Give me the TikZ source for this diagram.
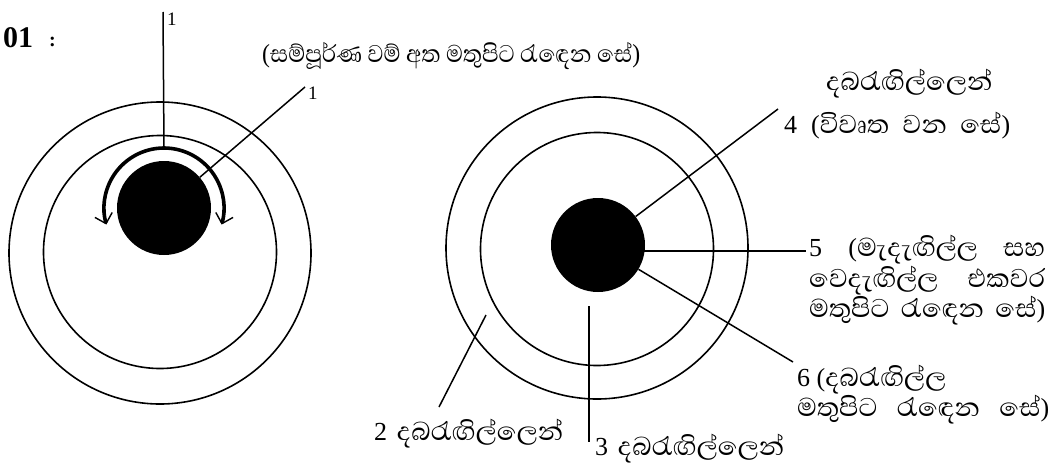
\documentclass[tikz,border=0pt]{standalone}
\usepackage{fontspec}
\usepackage{graphicx}
\setmainfont{Abhaya Libre}[Script=Sinhala]
\newfontfamily\numfont{Liberation Serif}
\usetikzlibrary{arrows.meta}
% one line set to a given width: squeeze if too wide, else spread the spaces
\newsavebox{\linebox}
\newcommand{\fitline}[2]{\sbox{\linebox}{#2}%
  \ifdim\wd\linebox>#1\relax\resizebox{#1}{\height}{#2}\else\makebox[#1][s]{#2}\fi}
% digits and brackets in the Latin face
\newcommand{\nm}[1]{{\numfont\fontsize{26}{29}\selectfont #1}}
\tikzset{
  ring/.style={line width=1.6pt},
  lead/.style={line width=1.5pt},
  lbl/.style={font=\fontsize{33}{29}\selectfont, inner sep=0pt, align=left, anchor=base west},
  numlbl/.style={font=\numfont\fontsize{19}{22}\selectfont, inner sep=0pt},
  dot/.style={circle, fill=black, minimum size=94pt, inner sep=0pt},
  turn/.style={line width=3.6pt, -{Straight Barb[line width=1.4pt, length=9pt, width=18pt]}}
}
\begin{document}
\begin{tikzpicture}[x=1pt, y=-1pt]
  \useasboundingbox (0,0) rectangle (1059,466);
  % heading
  \node[anchor=west, inner sep=0pt, font=\numfont\bfseries\fontsize{30}{30}\selectfont] (hd) at (3,38) {01};
  \node[anchor=west, inner sep=0pt, font=\numfont\bfseries\fontsize{20}{20}\selectfont] (hdc) at (49,42) {:};
  \node[lbl, font=\fontsize{31}{29}\selectfont] (top) at (262,62)
    {\fitline{378pt}{\nm{(}සම්පූර්ණ වම් අත මතුපිට රැඳෙන සේ\nm{)}}};

  % left figure: rings and dot
  \draw[ring] (160,253) circle (151);
  \draw[ring] (160,252) circle (116.5);
  \node[dot] (ldot) at (164,208) {};
  % curved double arrow over the dot
  \coordinate (atop) at (164,148);
  \draw[turn] (atop) arc (-90:-196:60);
  \draw[turn] (atop) arc (-90:16:60);
  % leaders marked 1
  \coordinate (e1a) at (163,12);
  \node[numlbl, anchor=west] (l1a) at (167,19) {1};
  \draw[lead] (e1a) -- (atop);
  \coordinate (e1b) at (305,87);
  \node[numlbl, anchor=west] (l1b) at (308,93) {1};
  \draw[lead] (ldot) -- (e1b);

  % right figure: rings and dot
  \draw[ring] (597,248) circle (151);
  \draw[ring] (597,249) circle (116.5);
  \node[dot] (rdot) at (598,245) {};
  % labels (base of a multi-line label is its last line)
  \node[lbl] (t4) at (826,90) {දබරැඟිල්ලෙන්};
  \node[lbl] (l4) at (784,133) {\fitline{226pt}{\nm{4 (}විවෘත වන සේ\nm{)}}};
  \node[lbl] (l5) at (809,317)
    {\fitline{236pt}{\nm{5 (}මැදැඟිල්ල සහ}\\\fitline{236pt}{වෙදැඟිල්ල එකවර}\\\fitline{236pt}{මතුපිට රැඳෙන සේ\nm{)}}};
  \node[lbl, font=\fontsize{33}{28}\selectfont] (l6) at (797,416)
    {\nm{6 (}දබරැඟිල්ල\\\fitline{252pt}{මතුපිට රැඳෙන සේ\nm{)}}};
  \node[lbl] (l2) at (374,440) {\fitline{189pt}{\nm{2} දබරැඟිල්ලෙන්}};
  \node[lbl] (l3) at (595,455) {\fitline{189pt}{\nm{3} දබරැඟිල්ලෙන්}};
  % leader lines
  \coordinate (e4) at (778,109);
  \coordinate (e5) at (806,251);
  \coordinate (e6) at (793,362);
  \coordinate (s2) at (486,315);
  \coordinate (e2) at (439,407);
  \coordinate (s3) at (589,306);
  \coordinate (e3) at (589,442);
  \draw[lead] (rdot) -- (e4);
  \draw[lead] (rdot.center |- e5) -- (e5);
  \draw[lead] (rdot) -- (e6);
  \draw[lead] (s2) -- (e2);
  \draw[lead] (s3) -- (e3);
\end{tikzpicture}
\end{document}
